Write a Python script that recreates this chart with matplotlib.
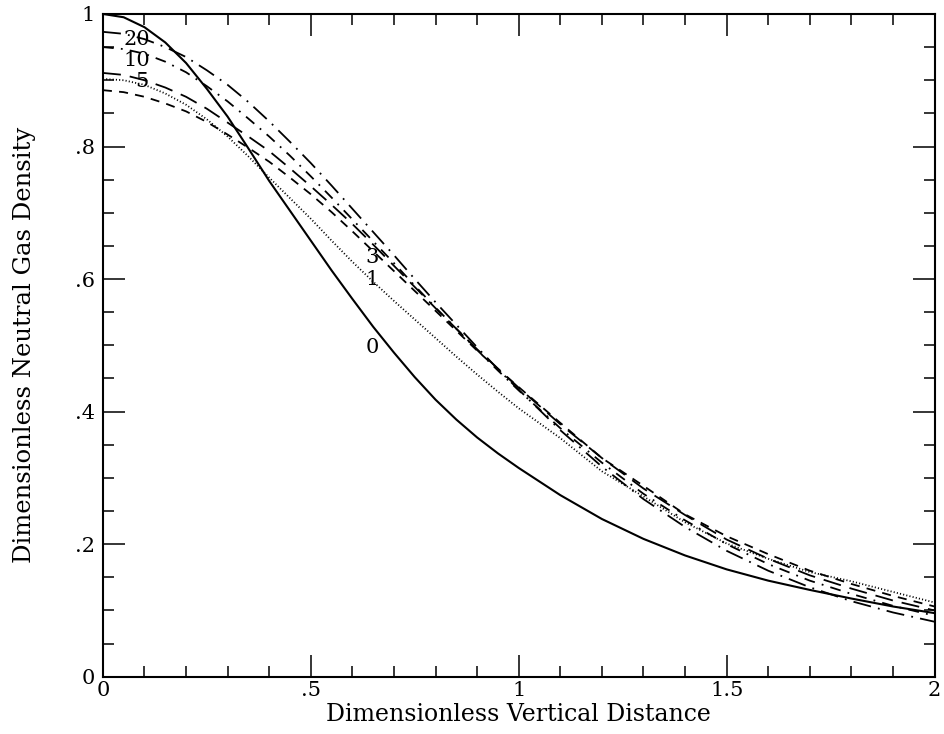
import matplotlib
matplotlib.use('Agg')
import matplotlib.pyplot as plt
from matplotlib.ticker import MultipleLocator

# vertical distance sample points (finer where the curves bend most)
z = [0.0, 0.05, 0.1, 0.15, 0.2, 0.25, 0.3, 0.35, 0.4, 0.45, 0.5,
     0.55, 0.6, 0.65, 0.7, 0.75, 0.8, 0.85, 0.9, 0.95, 1.0,
     1.1, 1.2, 1.3, 1.4, 1.5, 1.6, 1.7, 1.8, 1.9, 2.0]

# density curves, one per parameter value
rho_0 = [1.000, 0.995, 0.980, 0.957, 0.926, 0.887, 0.845, 0.797, 0.748, 0.703, 0.658,
         0.613, 0.570, 0.528, 0.489, 0.452, 0.418, 0.388, 0.361, 0.337, 0.315,
         0.274, 0.238, 0.208, 0.183, 0.162, 0.145, 0.131, 0.118, 0.106, 0.096]
rho_1 = [0.902, 0.900, 0.893, 0.880, 0.863, 0.841, 0.815, 0.785, 0.753, 0.722, 0.691,
         0.658, 0.626, 0.596, 0.567, 0.539, 0.511, 0.483, 0.456, 0.430, 0.405,
         0.360, 0.310, 0.272, 0.233, 0.201, 0.178, 0.158, 0.144, 0.128, 0.112]
rho_3 = [0.885, 0.882, 0.875, 0.865, 0.853, 0.837, 0.818, 0.798, 0.777, 0.753, 0.728,
         0.701, 0.672, 0.642, 0.612, 0.582, 0.552, 0.522, 0.492, 0.464, 0.437,
         0.383, 0.330, 0.288, 0.245, 0.212, 0.185, 0.160, 0.140, 0.122, 0.106]
rho_5 = [0.911, 0.908, 0.900, 0.889, 0.875, 0.857, 0.836, 0.815, 0.793, 0.767, 0.740,
         0.712, 0.683, 0.652, 0.620, 0.588, 0.556, 0.525, 0.494, 0.465, 0.436,
         0.381, 0.330, 0.284, 0.244, 0.207, 0.178, 0.153, 0.133, 0.115, 0.100]
rho_10 = [0.950, 0.947, 0.940, 0.928, 0.912, 0.891, 0.868, 0.842, 0.815, 0.786, 0.755,
          0.723, 0.690, 0.657, 0.624, 0.590, 0.557, 0.525, 0.493, 0.462, 0.432,
          0.375, 0.323, 0.276, 0.236, 0.200, 0.170, 0.145, 0.125, 0.107, 0.092]
rho_20 = [0.973, 0.970, 0.962, 0.950, 0.935, 0.915, 0.893, 0.867, 0.838, 0.807, 0.775,
          0.741, 0.706, 0.671, 0.636, 0.600, 0.565, 0.531, 0.497, 0.464, 0.433,
          0.372, 0.317, 0.268, 0.226, 0.190, 0.160, 0.135, 0.114, 0.097, 0.083]

curve_labels = ['0', '1', '3', '5', '10', '20']
label_x = [0.647, 0.647, 0.647, 0.094, 0.082, 0.082]
label_y = [0.496, 0.600, 0.632, 0.898, 0.930, 0.962]

xticks = [0, 0.5, 1, 1.5, 2]
xticklabels = ['0', '.5', '1', '1.5', '2']
yticks = [0, 0.2, 0.4, 0.6, 0.8, 1]
yticklabels = ['0', '.2', '.4', '.6', '.8', '1']

plt.rcParams['font.family'] = 'DejaVu Serif'

fig = plt.figure(figsize=(9.44, 7.34), dpi=100)
ax = fig.add_axes([0.109, 0.078, 0.881, 0.903])

ax.plot(z, rho_0, color='k', lw=1.5, linestyle='-')
ax.plot(z, rho_1, color='k', lw=1.3, linestyle=(0, (0.6, 1.2)))
ax.plot(z, rho_3, color='k', lw=1.3, linestyle=(0, (5, 4)))
ax.plot(z, rho_5, color='k', lw=1.3, linestyle=(0, (10, 5)))
ax.plot(z, rho_10, color='k', lw=1.3, linestyle=(0, (6, 4, 1, 4)))
ax.plot(z, rho_20, color='k', lw=1.3, linestyle=(0, (10, 4, 1, 4)))

for lab, lx, ly in zip(curve_labels, label_x, label_y):
    ax.text(lx, ly, lab, fontsize=15, ha='center', va='center')

ax.set_xlim(0, 2)
ax.set_ylim(0, 1)
ax.set_xticks(xticks)
ax.set_xticklabels(xticklabels)
ax.set_yticks(yticks)
ax.set_yticklabels(yticklabels)
ax.xaxis.set_minor_locator(MultipleLocator(0.1))
ax.yaxis.set_minor_locator(MultipleLocator(0.05))
ax.tick_params(which='both', direction='in', top=True, right=True,
               labelsize=15, width=1.1)
ax.tick_params(which='major', length=16)
ax.tick_params(which='minor', length=8)
ax.tick_params(axis='x', which='major', pad=3)
ax.tick_params(axis='y', which='major', pad=6)
for s in ax.spines.values():
    s.set_linewidth(1.5)

ax.set_xlabel('Dimensionless Vertical Distance', fontsize=17, labelpad=2)
ax.set_ylabel('Dimensionless Neutral Gas Density', fontsize=17.5, labelpad=28)

fig.savefig('out.png', dpi=100)
